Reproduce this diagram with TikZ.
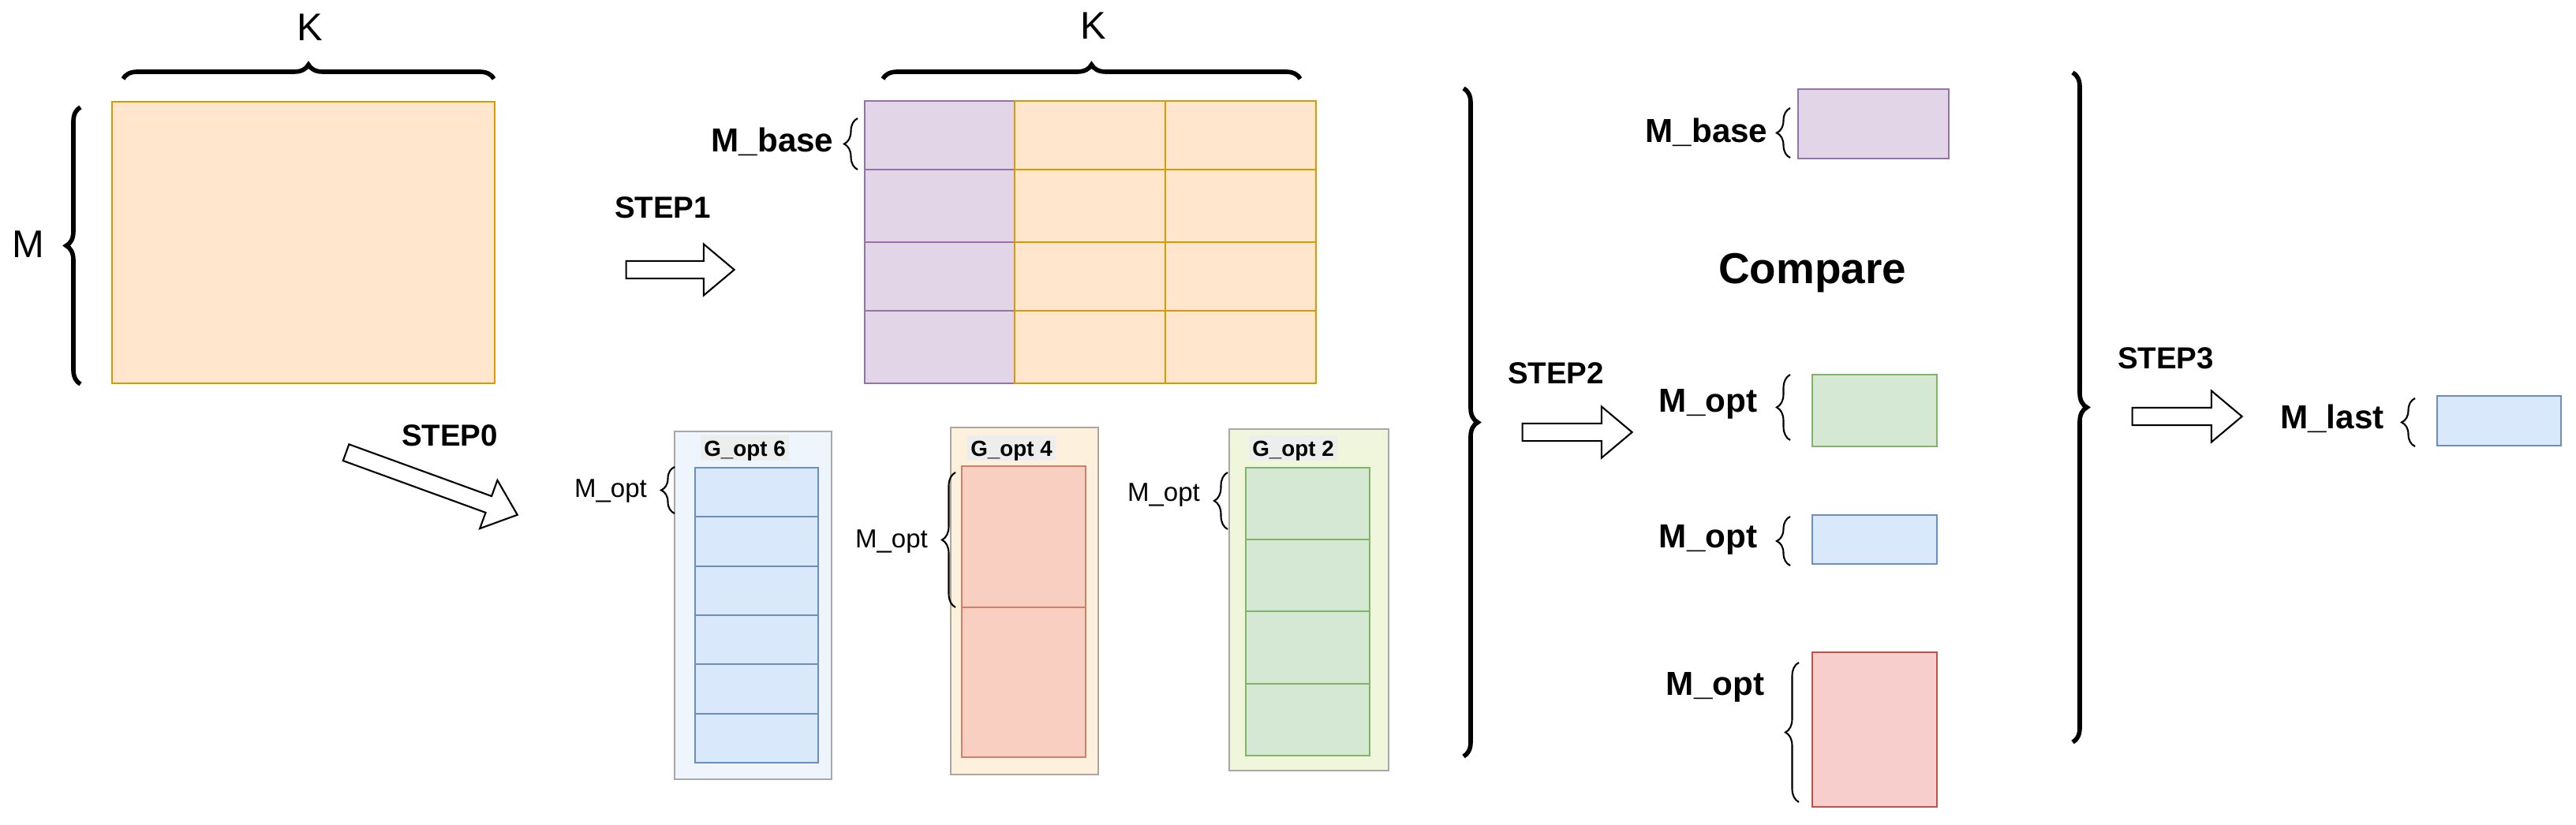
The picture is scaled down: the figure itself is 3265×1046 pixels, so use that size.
\documentclass[tikz,border=0pt]{standalone}
\usepackage{fontspec}
\setmainfont{Liberation Sans}
\usetikzlibrary{shapes.arrows,decorations.pathreplacing}
\definecolor{orangefill}{HTML}{FFE6CC}
\definecolor{orangeline}{HTML}{D79B00}
\definecolor{purplefill}{HTML}{E1D5E7}
\definecolor{purpleline}{HTML}{9673A6}
\definecolor{bluefill}{HTML}{DAE8FC}
\definecolor{blueline}{HTML}{6C8EBF}
\definecolor{greenfill}{HTML}{D5E8D4}
\definecolor{greenline}{HTML}{82B366}
\definecolor{redfill}{HTML}{F8CECC}
\definecolor{redline}{HTML}{B85450}
\definecolor{salmonfill}{HTML}{F8CFC0}
\definecolor{salmonline}{HTML}{D0806A}
\definecolor{gbluefill}{HTML}{EEF5FC}
\definecolor{gorangefill}{HTML}{FDF0DC}
\definecolor{ggreenfill}{HTML}{F0F6DC}
\definecolor{gline}{HTML}{A8A8A8}
\definecolor{gorangeline}{HTML}{B0A59C}
\definecolor{labelfill}{HTML}{ECEEEE}
\newcommand{\setfs}[1]{\fontsize{#1}{#1}\selectfont}
\begin{document}
\begin{tikzpicture}[x=0.01cm, y=-0.01cm,
    bigbrace/.style={decorate, decoration={brace, amplitude=0.18cm}, line width=1.6pt},
    smallbrace/.style={decorate, decoration={brace, amplitude=0.17cm}, line width=0.6pt},
    blockarrow/.style={single arrow, draw=black, fill=white, line width=0.6pt,
        inner xsep=0pt, inner ysep=0.1cm, text height=0pt, text depth=0pt,
        single arrow head extend=0.215cm, single arrow tip angle=80},
    dimlabel/.style={font=\setfs{13.9pt}, anchor=base, inner sep=0pt},
    steplabel/.style={font=\setfs{10.95pt}\bfseries, anchor=base, inner sep=0pt},
    boldlabel/.style={font=\setfs{12pt}\bfseries, anchor=base, inner sep=0pt},
    optlabel/.style={font=\setfs{9.4pt}, anchor=base, inner sep=0pt},
    glabel/.style={font=\setfs{7.9pt}\bfseries, fill=labelfill, inner sep=0pt,
        minimum width=1.12cm, minimum height=0.32cm, text height=0.2cm, text depth=0pt}]
    \useasboundingbox (0,0) rectangle (3265,1046);
    % input matrix
    \filldraw[fill=orangefill, draw=orangeline, line width=0.6pt] (142,129) rectangle (627,486);
    \draw[bigbrace] (156,100) -- (626,100);
    \draw[bigbrace] (102,487) -- (102,136);
    \node[dimlabel] (kleft) at (393,52) {K};
    \node[dimlabel] (mleft) at (36,327) {M};
    % STEP1
    \node[steplabel] (stepone) at (840,277) {STEP1};
    \node[blockarrow, minimum height=1.37cm] (arrowone) at (855.5,342) {};
    \foreach \ya/\yb in {128/215,215/307,307/394,394/486}{
        \filldraw[fill=purplefill, draw=purpleline, line width=0.6pt] (1096,\ya) rectangle (1286,\yb);
        \filldraw[fill=orangefill, draw=orangeline, line width=0.6pt] (1286,\ya) rectangle (1477,\yb);
        \filldraw[fill=orangefill, draw=orangeline, line width=0.6pt] (1477,\ya) rectangle (1668,\yb);
    }
    \draw[bigbrace] (1119,100) -- (1648,100);
    \node[dimlabel] (kright) at (1386,50) {K};
    \draw[smallbrace] (1087,215) -- (1087,150);
    \node[boldlabel] (mbaseleft) at (979,193) {M\_base};
    % STEP0
    \node[steplabel] (stepzero) at (570,566) {STEP0};
    \node[blockarrow, minimum height=2.31cm, rotate=-20] (arrowzero) at (541,611) {};
    % G_opt 6
    \filldraw[fill=gbluefill, draw=gline, line width=0.8pt] (855,547) rectangle (1054,988);
    \node[glabel] (gsix) at (944,568) {G\_opt 6};
    \filldraw[fill=bluefill, draw=blueline, line width=0.6pt] (881,593) rectangle (1037,967);
    \foreach \y in {655,718,780,842,905}
        \draw[blueline, line width=0.6pt] (881,\y) -- (1037,\y);
    \draw[smallbrace] (855,651) -- (855,592);
    \node[optlabel] (optsix) at (774,631) {M\_opt};
    % G_opt 4
    \filldraw[fill=gorangefill, draw=gorangeline, line width=0.8pt] (1205,542) rectangle (1392,982);
    \node[glabel] (gfour) at (1282,568) {G\_opt 4};
    \filldraw[fill=salmonfill, draw=salmonline, line width=0.6pt] (1219,591) rectangle (1376,960);
    \draw[salmonline, line width=0.6pt] (1219,770) -- (1376,770);
    \draw[smallbrace] (1211,770) -- (1211,599);
    \node[optlabel] (optfour) at (1130,695) {M\_opt};
    % G_opt 2
    \filldraw[fill=ggreenfill, draw=gline, line width=0.8pt] (1558,544) rectangle (1760,977);
    \node[glabel] (gtwo) at (1639,568) {G\_opt 2};
    \filldraw[fill=greenfill, draw=greenline, line width=0.6pt] (1579,593) rectangle (1736,958);
    \foreach \y in {684,775,867}
        \draw[greenline, line width=0.6pt] (1579,\y) -- (1736,\y);
    \draw[smallbrace] (1556,671) -- (1556,599);
    \node[optlabel] (opttwo) at (1475,636) {M\_opt};
    % STEP2
    \draw[bigbrace] (1855,112) -- (1855,959);
    \node[steplabel] (steptwo) at (1972,487) {STEP2};
    \node[blockarrow, minimum height=1.39cm] (arrowtwo) at (1992.5,548) {};
    \node[boldlabel] (mbaseright) at (2163,181) {M\_base};
    \draw[smallbrace] (2269,200) -- (2269,137);
    \filldraw[fill=purplefill, draw=purpleline, line width=0.6pt] (2279,113) rectangle (2470,201);
    \node[font=\setfs{15.6pt}\bfseries, anchor=base, inner sep=0pt] (compare) at (2297,360) {Compare};
    \node[boldlabel] (optgreen) at (2165,523) {M\_opt};
    \draw[smallbrace] (2269,558) -- (2269,475);
    \filldraw[fill=greenfill, draw=greenline, line width=0.6pt] (2297,475) rectangle (2455,566);
    \node[boldlabel] (optblue) at (2165,695) {M\_opt};
    \draw[smallbrace] (2269,717) -- (2269,655);
    \filldraw[fill=bluefill, draw=blueline, line width=0.6pt] (2297,653) rectangle (2455,715);
    \node[boldlabel] (optred) at (2174,881) {M\_opt};
    \draw[smallbrace] (2280,1017) -- (2280,840);
    \filldraw[fill=redfill, draw=redline, line width=0.6pt] (2297,827) rectangle (2455,1023);
    % STEP3
    \draw[bigbrace] (2627,92) -- (2627,941);
    \node[steplabel] (stepthree) at (2745,468) {STEP3};
    \node[blockarrow, minimum height=1.39cm] (arrowthree) at (2765.5,528) {};
    \node[boldlabel] (mlast) at (2956,544) {M\_last};
    \draw[smallbrace] (3061,566) -- (3061,505);
    \filldraw[fill=bluefill, draw=blueline, line width=0.6pt] (3089,502) rectangle (3246,565);
\end{tikzpicture}
\end{document}
